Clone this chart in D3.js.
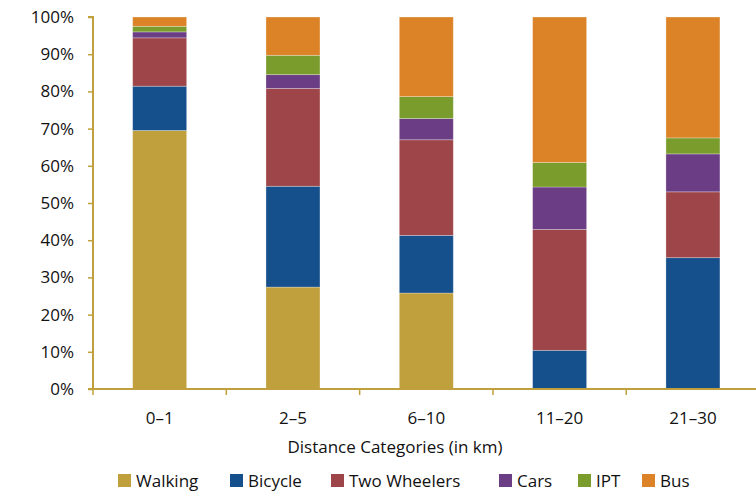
<!DOCTYPE html>
<html><head><meta charset="utf-8">
<script src="https://cdn.jsdelivr.net/npm/d3@7"></script>
<style>body{margin:0;background:#fff;}svg{display:block;font-family:"Open Sans",sans-serif;}</style>
</head><body><svg id="c" width="756" height="493"></svg>
<script>
const categories = ["0–1","2–5","6–10","11–20","21–30"];
const seriesNames = ["Walking","Bicycle","Two Wheelers","Cars","IPT","Bus"];
const walking     = [69.5, 27.4, 25.8, 0.0, 0.0];
const bicycle     = [11.9, 27.1, 15.5, 10.4, 35.3];
const twoWheelers = [13.0, 26.3, 25.7, 32.5, 17.7];
const cars        = [1.6, 3.7, 5.7, 11.4, 10.2];
const ipt         = [1.5, 5.2, 5.9, 6.6, 4.3];
const bus         = [2.5, 10.3, 21.4, 39.1, 32.5];
const yTicks = [0,10,20,30,40,50,60,70,80,90,100];
const colors = ["#C0A03D","#15508C","#9E4549","#6A3D85","#7A9C2C","#DC8328"];
const axisColor = "#BFA03C";
const fs = "17px";
const txt = "#111";

const seriesVals = [walking, bicycle, twoWheelers, cars, ipt, bus];
const rows = categories.map((c,i)=>{const r={cat:c}; seriesNames.forEach((s,j)=>r[s]=seriesVals[j][i]); return r;});
const stack = d3.stack().keys(seriesNames)(rows);

const svg = d3.select("#c");
const x = d3.scaleBand().domain(categories).range([93, 759.6]).paddingInner(0).paddingOuter(0);
const y = d3.scaleLinear().domain([0,100]).range([389, 17]);
const barW = x.bandwidth()*0.405;

const g = svg.append("g");
stack.forEach((layer,j)=>{
  g.selectAll(null).data(layer).enter().append("rect")
    .attr("x", d=>x(d.data.cat)+x.bandwidth()/2-barW/2)
    .attr("width", barW)
    .attr("y", d=>y(d[1]))
    .attr("height", d=>Math.max(0,y(d[0])-y(d[1])))
    .attr("fill", colors[j])
    .attr("stroke","rgba(255,255,255,0.35)").attr("stroke-width",0.8);
});

// Y axis
const ya = svg.append("g").attr("transform","translate(93,0)")
  .call(d3.axisLeft(y).tickValues(yTicks).tickFormat(d=>d+"%").tickSize(5).tickPadding(14));
ya.select(".domain").attr("stroke",axisColor).attr("stroke-width",2).attr("d","M-5,17H0V389H-5");
ya.selectAll(".tick line").attr("stroke",axisColor).attr("stroke-width",1.5);
ya.selectAll(".tick text").attr("font-size",fs).attr("fill",txt).attr("font-family","'Open Sans',sans-serif");

// X axis
const xa = svg.append("g").attr("transform","translate(0,389)")
  .call(d3.axisBottom(x).tickSize(0).tickPadding(23));
xa.select(".domain").attr("stroke",axisColor).attr("stroke-width",2).attr("d","M93,0H759.6");
xa.selectAll(".tick text").attr("font-size",fs).attr("fill",txt).attr("font-family","'Open Sans',sans-serif");
const bounds = categories.map(c=>x(c)).concat([x(categories[categories.length-1])+x.bandwidth()]);
svg.append("g").selectAll("line").data(bounds).enter().append("line")
  .attr("x1",d=>d).attr("x2",d=>d).attr("y1",389).attr("y2",395)
  .attr("stroke",axisColor).attr("stroke-width",1.5);

svg.append("text").attr("x",395).attr("y",453).attr("text-anchor","middle")
  .attr("font-size",fs).attr("fill",txt).text("Distance Categories (in km)");

// Legend
const legX = [118,230,331,499,578,642];
const leg = svg.append("g");
seriesNames.forEach((s,i)=>{
  leg.append("rect").attr("x",legX[i]).attr("y",474).attr("width",13).attr("height",13).attr("fill",colors[i]);
  leg.append("text").attr("x",legX[i]+18).attr("y",487).attr("font-size",fs).attr("fill",txt).text(s);
});
</script></body></html>
